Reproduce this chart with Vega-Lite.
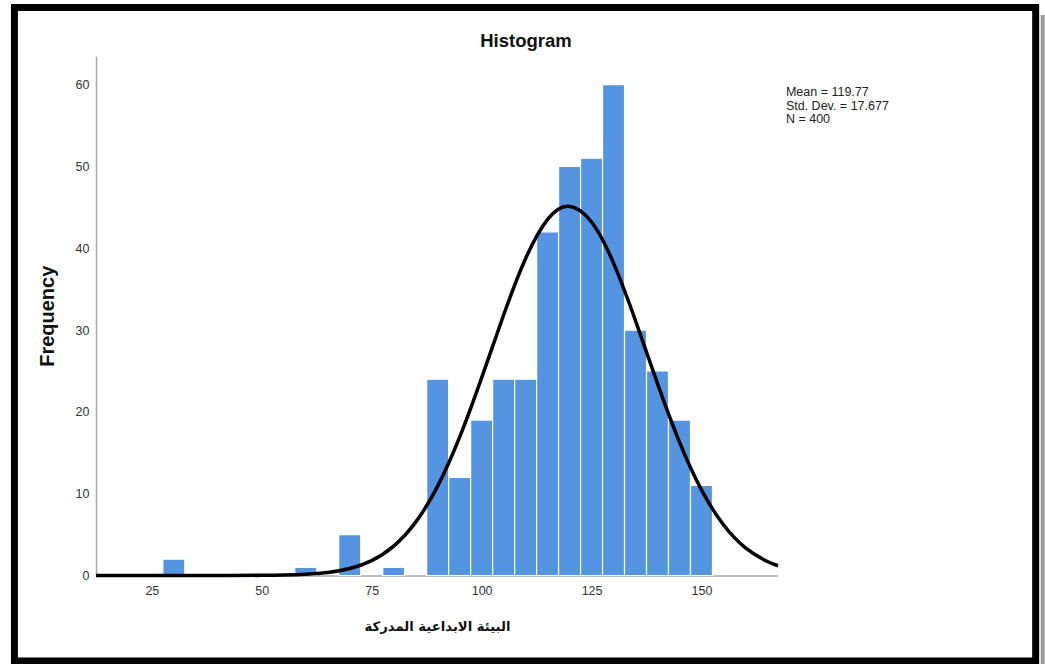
{
  "$schema": "https://vega.github.io/schema/vega-lite/v6.json",
  "width": 682,
  "height": 519.5,
  "autosize": {"type": "none"},
  "padding": {"left": 96, "top": 56, "right": 267, "bottom": 88.5},
  "background": "white",
  "title": {
    "text": "Histogram",
    "font": "Liberation Sans",
    "fontSize": 18.5,
    "fontWeight": "bold",
    "color": "#111",
    "anchor": "middle",
    "dx": 89,
    "baseline": "alphabetic",
    "offset": -62
  },
  "config": {
    "view": {"stroke": null},
    "axis": {
      "labelFont": "Liberation Sans",
      "labelFontSize": 12.5,
      "labelColor": "#333",
      "titleFont": "Liberation Sans",
      "titleColor": "#111",
      "domainColor": "#aaaaaa",
      "domainWidth": 1.5,
      "ticks": false,
      "grid": false
    }
  },
  "datasets": {
    "bins": [
      {"bin_start": 27.5, "bin_end": 32.5, "count": 2},
      {"bin_start": 57.5, "bin_end": 62.5, "count": 1},
      {"bin_start": 67.5, "bin_end": 72.5, "count": 5},
      {"bin_start": 77.5, "bin_end": 82.5, "count": 1},
      {"bin_start": 87.5, "bin_end": 92.5, "count": 24},
      {"bin_start": 92.5, "bin_end": 97.5, "count": 12},
      {"bin_start": 97.5, "bin_end": 102.5, "count": 19},
      {"bin_start": 102.5, "bin_end": 107.5, "count": 24},
      {"bin_start": 107.5, "bin_end": 112.5, "count": 24},
      {"bin_start": 112.5, "bin_end": 117.5, "count": 42},
      {"bin_start": 117.5, "bin_end": 122.5, "count": 50},
      {"bin_start": 122.5, "bin_end": 127.5, "count": 51},
      {"bin_start": 127.5, "bin_end": 132.5, "count": 60},
      {"bin_start": 132.5, "bin_end": 137.5, "count": 30},
      {"bin_start": 137.5, "bin_end": 142.5, "count": 25},
      {"bin_start": 142.5, "bin_end": 147.5, "count": 19},
      {"bin_start": 147.5, "bin_end": 152.5, "count": 11}
    ],
    "curve": [
      {"x": 12.3, "y": 0},
      {"x": 20, "y": 0},
      {"x": 30, "y": 0.0001},
      {"x": 40, "y": 0.0017},
      {"x": 50, "y": 0.0187},
      {"x": 55, "y": 0.055},
      {"x": 60, "y": 0.149},
      {"x": 65, "y": 0.372},
      {"x": 70, "y": 0.858},
      {"x": 75, "y": 1.827},
      {"x": 80, "y": 3.593},
      {"x": 85, "y": 6.522},
      {"x": 90, "y": 10.93},
      {"x": 95, "y": 16.91},
      {"x": 100, "y": 24.15},
      {"x": 105, "y": 31.84},
      {"x": 110, "y": 38.75},
      {"x": 115, "y": 43.53},
      {"x": 119.77, "y": 45.14},
      {"x": 125, "y": 43.21},
      {"x": 130, "y": 38.18},
      {"x": 135, "y": 31.14},
      {"x": 140, "y": 23.45},
      {"x": 145, "y": 16.30},
      {"x": 150, "y": 10.46},
      {"x": 155, "y": 6.196},
      {"x": 160, "y": 3.387},
      {"x": 165, "y": 1.710},
      {"x": 167.4, "y": 1.197}
    ],
    "one": [{}]
  },
  "layer": [
    {
      "data": {"name": "bins"},
      "mark": {"type": "bar", "fill": "#5594e0", "stroke": "white", "strokeWidth": 1.2},
      "encoding": {
        "x": {
          "field": "bin_start", "type": "quantitative",
          "scale": {"domain": [12.3, 167.4], "nice": false, "zero": false},
          "axis": {
            "values": [25, 50, 75, 100, 125, 150],
            "title": "البيئة الابداعية المدركة",
            "titleFont": "DejaVu Sans",
            "titleFontSize": 13.2,
            "titleFontWeight": "bold",
            "titlePadding": 23,
            "labelPadding": 9
          }
        },
        "x2": {"field": "bin_end"},
        "y": {
          "field": "count", "type": "quantitative",
          "scale": {"domain": [0, 63.5], "nice": false},
          "axis": {
            "values": [0, 10, 20, 30, 40, 50, 60],
            "title": "Frequency",
            "titleFontSize": 20,
            "titleFontWeight": "bold",
            "titlePadding": 18,
            "labelPadding": 7
          }
        },
        "y2": {"datum": 0}
      }
    },
    {
      "data": {"name": "curve"},
      "mark": {"type": "line", "color": "black", "strokeWidth": 3.5, "interpolate": "natural"},
      "encoding": {
        "x": {"field": "x", "type": "quantitative"},
        "y": {"field": "y", "type": "quantitative"}
      }
    },
    {
      "data": {"name": "one"},
      "mark": {
        "type": "text",
        "text": ["Mean = 119.77", "Std. Dev. = 17.677", "N = 400"],
        "font": "Liberation Sans",
        "fontSize": 12.5,
        "lineHeight": 13.6,
        "align": "left",
        "baseline": "top",
        "color": "#222"
      },
      "encoding": {
        "x": {"datum": 169.2, "type": "quantitative"},
        "y": {"datum": 59.83, "type": "quantitative"}
      }
    },
    {
      "data": {"name": "one"},
      "mark": {"type": "rule", "stroke": "#9a9a9a", "strokeWidth": 4, "clip": false},
      "encoding": {
        "x": {"datum": 227.6, "type": "quantitative"},
        "y": {"datum": 68.5, "type": "quantitative"},
        "y2": {"datum": -12}
      }
    },
    {
      "data": {"name": "one"},
      "mark": {"type": "rect", "filled": false, "stroke": "black", "strokeWidth": 7, "clip": false},
      "encoding": {
        "x": {"datum": -6.25, "type": "quantitative"},
        "x2": {"datum": 226.0},
        "y": {"datum": 69.44, "type": "quantitative"},
        "y2": {"datum": -10.45}
      }
    }
  ]
}
